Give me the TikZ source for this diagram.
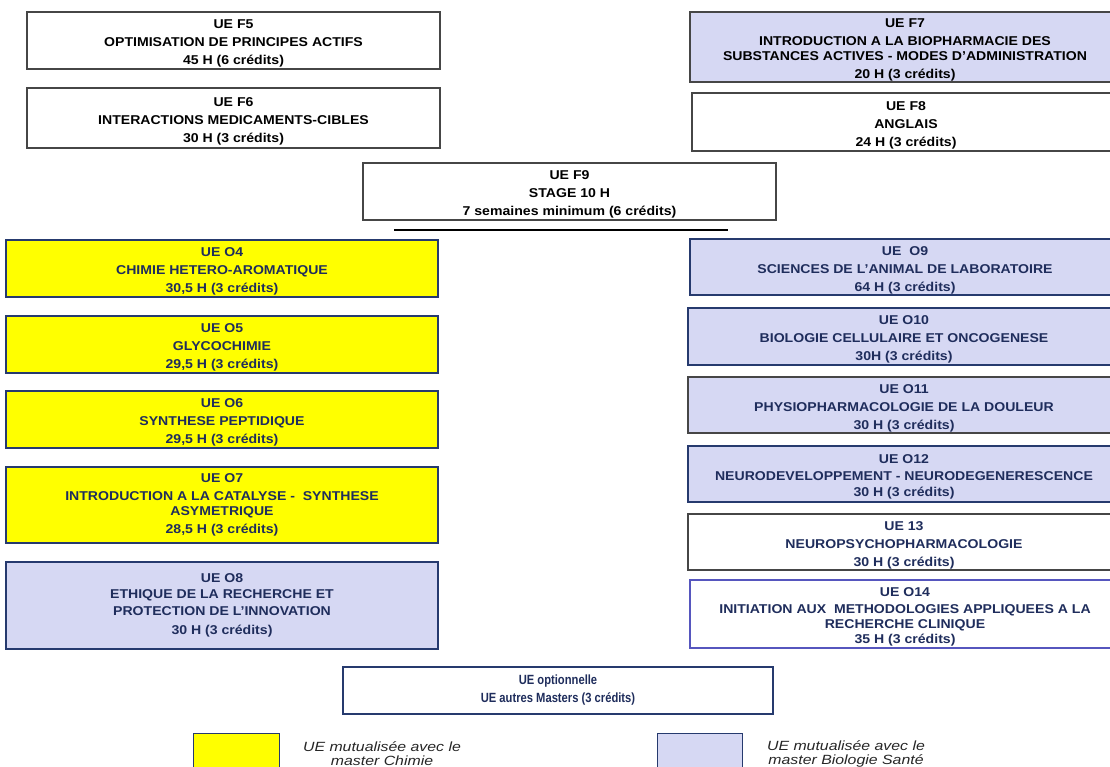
\documentclass[tikz,border=0pt]{standalone}
\usepackage{fontspec}
\setmainfont{Liberation Sans}
\newfontfamily\uefont[FakeStretch=1.1]{Liberation Sans}
\newfontfamily\optfont[FakeStretch=0.84]{Liberation Sans}
\newfontfamily\legfont[FakeStretch=1.19]{Liberation Sans}

\definecolor{uenavy}{RGB}{31,45,92}
\definecolor{uelav}{RGB}{214,216,243}
\definecolor{ueyellow}{RGB}{255,255,0}
\definecolor{bordnavy}{RGB}{38,58,110}
\definecolor{bordgray}{RGB}{70,70,70}
\definecolor{bordblue}{RGB}{86,86,190}

\newcommand\uestrut{\rule{0pt}{11.2pt}}

\tikzset{every picture/.style={line width=0.75pt}}
\tikzset{
  boxsize/.style 2 args={minimum width=#1*0.75pt, minimum height=#2*0.75pt},
  uebox/.style={draw=bordgray, line width=1pt, rectangle, inner sep=0pt, align=center,
    font=\uefont\bfseries\fontsize{9.6}{11.5}\selectfont},
  ftext/.style={uebox, fill=white, text=black},
  yellowue/.style={uebox, draw=bordnavy, fill=ueyellow, text=uenavy},
  lavue/.style={uebox, draw=bordnavy, fill=uelav, text=uenavy},
  whiteue/.style={uebox, fill=white, text=uenavy},
  legtext/.style={align=center, inner sep=0pt, text=black!85,
    font=\legfont\itshape\fontsize{10}{10.5}\selectfont}
}

\begin{document}
\begin{tikzpicture}[x=0.75pt,y=0.75pt,yscale=-1]
\useasboundingbox (0,0) rectangle (1110,767);
\clip (0,0) rectangle (1110,767);

% Tronc commun
\node (f5) [ftext, boxsize={413}{57}] at (233.5,40.5)
  {\uestrut UE F5\\[2pt] OPTIMISATION DE PRINCIPES ACTIFS\\[2pt] 45 H (6 crédits)};
\node (f6) [ftext, boxsize={413}{60}] at (233.5,118)
  {\uestrut UE F6\\[2pt] INTERACTIONS MEDICAMENTS-CIBLES\\[2pt] 30 H (3 crédits)};
\node (f7) [ftext, fill=uelav, boxsize={430}{70}] at (905,47)
  {\uestrut UE F7\\[2pt] INTRODUCTION A LA BIOPHARMACIE DES\\ SUBSTANCES ACTIVES - MODES D’ADMINISTRATION\\[2pt] 20 H (3 crédits)};
\node (f8) [ftext, boxsize={428}{58}] at (906,122)
  {\uestrut UE F8\\[2pt] ANGLAIS\\[2pt] 24 H (3 crédits)};
\node (f9) [ftext, boxsize={413}{57}] at (569.5,191.5)
  {\uestrut UE F9\\[2pt] STAGE 10 H\\[2pt] 7 semaines minimum (6 crédits)};

% Trait sous le stage
\coordinate (rulel) at (394,230);
\coordinate (ruler) at (728,230);
\draw [line width=1.8pt] (rulel) -- (ruler);

% UE optionnelles, colonne gauche
\node (o4) [yellowue, boxsize={432}{57}] at (222,268.5)
  {\uestrut UE O4\\[2pt] CHIMIE HETERO-AROMATIQUE\\[2pt] 30,5 H (3 crédits)};
\node (o5) [yellowue, boxsize={432}{57}] at (222,344.5)
  {\uestrut UE O5\\[2pt] GLYCOCHIMIE\\[2pt] 29,5 H (3 crédits)};
\node (o6) [yellowue, boxsize={432}{57}] at (222,419.5)
  {\uestrut UE O6\\[2pt] SYNTHESE PEPTIDIQUE\\[2pt] 29,5 H (3 crédits)};
\node (o7) [yellowue, boxsize={432}{76}] at (222,505)
  {UE O7\\[2pt] INTRODUCTION A LA CATALYSE -\ \ SYNTHESE\\ ASYMETRIQUE\\[2pt] 28,5 H (3 crédits)};
\node (o8) [lavue, boxsize={432}{87}] at (222,605.5)
  {UE O8\\[0pt] ETHIQUE DE LA RECHERCHE ET\\[1.5pt] PROTECTION DE L’INNOVATION\\[2.5pt] 30 H (3 crédits)};

% UE optionnelles, colonne droite
\node (o9) [lavue, boxsize={430}{56}] at (905,267)
  {\uestrut UE\ \ O9\\[2pt] SCIENCES DE L’ANIMAL DE LABORATOIRE\\[2pt] 64 H (3 crédits)};
\node (o10) [lavue, boxsize={432}{57}] at (904,336.5)
  {\uestrut UE O10\\[2pt] BIOLOGIE CELLULAIRE ET ONCOGENESE\\[2pt] 30H (3 crédits)};
\node (o11) [lavue, draw=bordgray, boxsize={432}{56}] at (904,405)
  {\uestrut UE O11\\[2pt] PHYSIOPHARMACOLOGIE DE LA DOULEUR\\[2pt] 30 H (3 crédits)};
\node (o12) [lavue, boxsize={432}{56}] at (904,474)
  {\uestrut UE O12\\[1pt] NEURODEVELOPPEMENT - NEURODEGENERESCENCE\\[1pt] 30 H (3 crédits)};
\node (o13) [whiteue, boxsize={432}{56}] at (904,542)
  {\uestrut UE 13\\[2pt] NEUROPSYCHOPHARMACOLOGIE\\[2pt] 30 H (3 crédits)};
\node (o14) [whiteue, draw=bordblue, boxsize={430}{68}] at (905,614)
  {\uestrut UE O14\\[1pt] INITIATION AUX\ \ METHODOLOGIES APPLIQUEES A LA\\ RECHERCHE CLINIQUE\\ 35 H (3 crédits)};

% UE libre
\node (opt) [whiteue, draw=bordnavy, boxsize={430}{47},
  font=\optfont\bfseries\fontsize{10}{13.5}\selectfont] at (558,690.5)
  {UE optionnelle\\ UE autres Masters (3 crédits)};

% Legende
\node (legchim) [draw=bordnavy, fill=ueyellow, boxsize={86}{67}, inner sep=0pt] at (236,766.5) {};
\node (legchimtxt) [legtext] at (382,754) {UE mutualisée avec le\\ master Chimie};
\node (legbio) [draw=bordnavy, fill=uelav, boxsize={85}{67}, inner sep=0pt] at (699.5,766.5) {};
\node (legbiotxt) [legtext] at (846,754) {UE mutualisée avec le\\ master Biologie Santé};

\end{tikzpicture}
\end{document}
